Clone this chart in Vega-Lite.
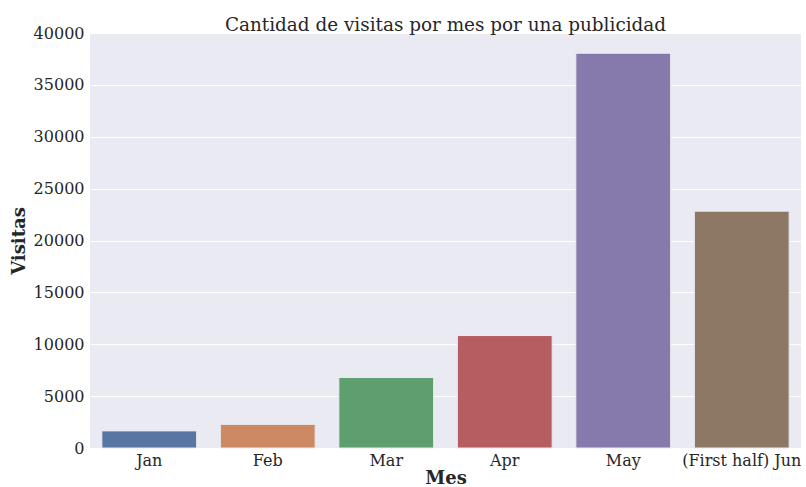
{
  "$schema": "https://vega.github.io/schema/vega-lite/v6.json",
  "width": 711,
  "height": 415,
  "autosize": {"type": "none"},
  "padding": {"left": 90, "top": 33, "right": 5, "bottom": 39},
  "background": "white",
  "title": {
    "text": "Cantidad de visitas por mes por una publicidad",
    "font": "DejaVu Serif",
    "fontSize": 18.4,
    "fontWeight": "normal",
    "color": "#262626",
    "offset": -9,
    "anchor": "middle"
  },
  "config": {
    "view": {"fill": "#eaeaf2", "stroke": null},
    "axis": {
      "labelFont": "DejaVu Serif",
      "titleFont": "DejaVu Serif",
      "labelColor": "#262626",
      "titleColor": "#262626",
      "domain": false,
      "ticks": false
    }
  },
  "data": {
    "values": [
      {"mes": "Jan", "visitas": 1650},
      {"mes": "Feb", "visitas": 2280},
      {"mes": "Mar", "visitas": 6800},
      {"mes": "Apr", "visitas": 10840},
      {"mes": "May", "visitas": 38050},
      {"mes": "(First half) Jun", "visitas": 22830}
    ]
  },
  "mark": {"type": "bar", "stroke": "#eaeaf2", "strokeWidth": 1},
  "encoding": {
    "x": {
      "field": "mes",
      "type": "nominal",
      "sort": null,
      "scale": {"paddingInner": 0.2, "paddingOuter": 0.1},
      "axis": {
        "title": "Mes",
        "titleFontSize": 18,
        "titleFontWeight": "bold",
        "labelFontSize": 16,
        "labelAngle": 0,
        "labelPadding": 4,
        "titlePadding": 1,
        "grid": false
      }
    },
    "y": {
      "field": "visitas",
      "type": "quantitative",
      "scale": {"domain": [0, 40000], "nice": false},
      "axis": {
        "title": "Visitas",
        "titleFontSize": 18,
        "titleFontWeight": "bold",
        "labelFontSize": 16,
        "labelPadding": 6,
        "titlePadding": 5,
        "values": [0, 5000, 10000, 15000, 20000, 25000, 30000, 35000, 40000],
        "format": "d",
        "grid": true,
        "gridColor": "white",
        "gridWidth": 1
      }
    },
    "color": {
      "field": "mes",
      "type": "nominal",
      "sort": null,
      "legend": null,
      "scale": {
        "domain": ["Jan", "Feb", "Mar", "Apr", "May", "(First half) Jun"],
        "range": ["#5975a4", "#cc8963", "#5f9e6e", "#b55d60", "#857aab", "#8d7866"]
      }
    }
  }
}
